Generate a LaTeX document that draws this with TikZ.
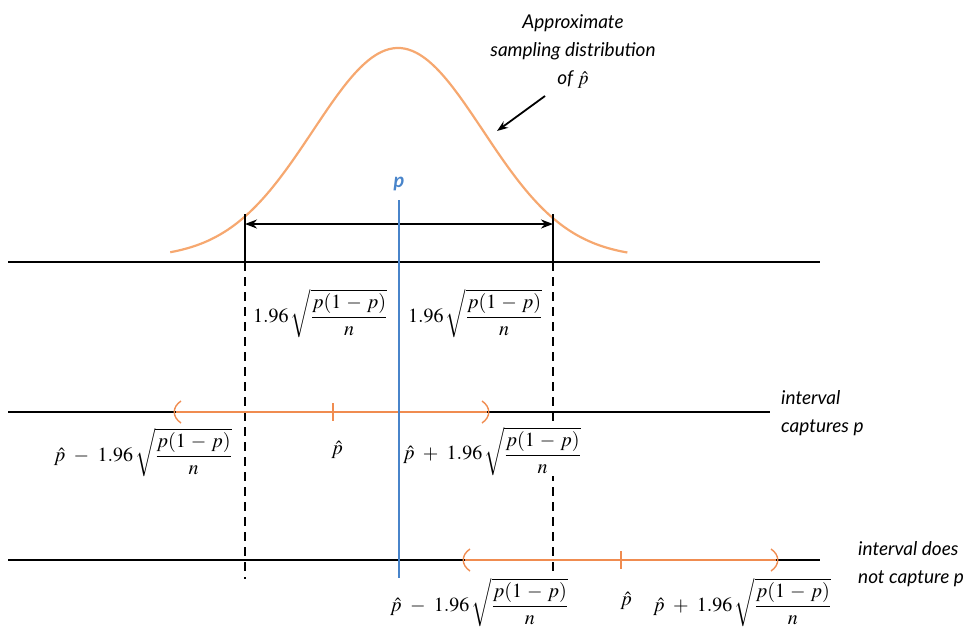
\documentclass[tikz,border=0pt]{standalone}
\usepackage{mathptmx}
\usepackage[no-math]{fontspec}
\newfontfamily\annfont{Lato}
\usetikzlibrary{arrows.meta}
\definecolor{curveor}{RGB}{246,168,112}
\definecolor{intor}{RGB}{240,140,80}
\definecolor{pblue}{RGB}{72,132,202}
\newcommand{\SE}{\sqrt{\displaystyle\frac{p(1\mskip2mu-\mskip2mu p)}{n}}}
\newcommand{\opgap}{\mskip5mu}
\tikzset{
  axisline/.style={line width=2.4pt, black},
  vsolid/.style={line width=2.2pt, black},
  vdash/.style={line width=2.2pt, black, dash pattern=on 9pt off 6pt},
  intline/.style={line width=2.4pt, intor},
  paren/.style={line width=1.4pt, intor},
  ann/.style={font=\annfont\itshape\fontsize{19}{28}\selectfont, align=left, inner sep=0pt},
  fml/.style={font=\fontsize{20}{24}\selectfont, inner sep=0pt},
}
\begin{document}
\begin{tikzpicture}[x=1pt,y=-1pt]
\useasboundingbox (0,0) rectangle (978,630);
% curve
\draw[curveor, line width=2.2pt, smooth] plot[domain=-2.68:2.7, samples=120] ({398+85*\x},{258-210*exp(-\x*\x/2)});
% axes
\coordinate (a1l) at (8,262); \coordinate (a1r) at (820,262);
\coordinate (a2l) at (8,412); \coordinate (a2r) at (770,412);
\coordinate (a3l) at (8,560); \coordinate (a3r) at (820,560);
\draw[axisline] (a1l) -- (a1r);
\draw[axisline] (a2l) -- (a2r);
\draw[axisline] (a3l) -- (a3r);
% verticals
\coordinate (lt) at (245,214); \coordinate (lb) at (245,262); \coordinate (ld) at (245,579);
\coordinate (rt) at (553,214); \coordinate (rb) at (553,262); \coordinate (rd) at (553,576);
\draw[vsolid] (lt) -- (lb);
\draw[vsolid] (rt) -- (rb);
\draw[vdash] (lb) -- (ld);
\draw[vdash] (rb) -- (rd);
% arrow
\coordinate (arl) at (245,224); \coordinate (arr) at (553,224);
\draw[line width=2pt, {Stealth[length=12pt,width=9pt]}-{Stealth[length=12pt,width=9pt]}] (arl) -- (arr);
% intervals
\coordinate (i1l) at (176,412); \coordinate (i1r) at (487,412); \coordinate (i1m) at (333,412);
\draw[intline] (i1l) -- (i1r);
\draw[intline] (333,403) -- (333,421);
\draw[paren] (181,401) .. controls (172,407) and (172,417) .. (181,423);
\draw[paren] (482,401) .. controls (491,407) and (491,417) .. (482,423);
\coordinate (i2l) at (465,560); \coordinate (i2r) at (776,560);
\draw[intline] (i2l) -- (i2r);
\draw[intline] (621,551) -- (621,569);
\draw[paren] (470,549) .. controls (461,555) and (461,565) .. (470,571);
\draw[paren] (771,549) .. controls (780,555) and (780,565) .. (771,571);
% blue line p
\coordinate (pt) at (399,200); \coordinate (pb) at (399,578);
\draw[pblue, line width=2.4pt] (pt) -- (pb);
\node[text=pblue, font=\annfont\itshape\bfseries\fontsize{20}{22}\selectfont] (plab) at (399,184) {p};
% formulas row 1
\node[fml, anchor=north west] (f1) at (253,289) {$1.96\,\SE$};
\node[fml, anchor=north west] (f2) at (408,289) {$1.96\,\SE$};
% row 2
\node[fml, anchor=north east] (g1) at (232,428) {$\hat{p}\opgap-\opgap1.96\,\SE$};
\node[fml] (g2) at (337,450) {$\hat{p}$};
\node[fml, anchor=north west, fill=white, outer sep=0pt] (g3) at (403,427) {$\hat{p}\opgap+\opgap1.96\,\SE$};
% row 3
\node[fml, anchor=north west] (h1) at (390,578) {$\hat{p}\opgap-\opgap1.96\,\SE$};
\node[fml] (h2) at (626,601) {$\hat{p}$};
\node[fml, anchor=north west] (h3) at (653,578) {$\hat{p}\opgap+\opgap1.96\,\SE$};
% annotations
\node[ann, anchor=west] (c1) at (781,413) {interval\\captures p};
\node[ann, anchor=west] (c2) at (858,564) {interval does\\not capture p};
\node[ann, align=center] (title) at (573,52) {Approximate\\sampling distribution\\of $\hat{p}$};
\coordinate (ctip) at (497,131);
\draw[line width=1.8pt, -{Stealth[length=11pt,width=8pt]}] (545,96) -- (ctip);
\end{tikzpicture}
\end{document}
